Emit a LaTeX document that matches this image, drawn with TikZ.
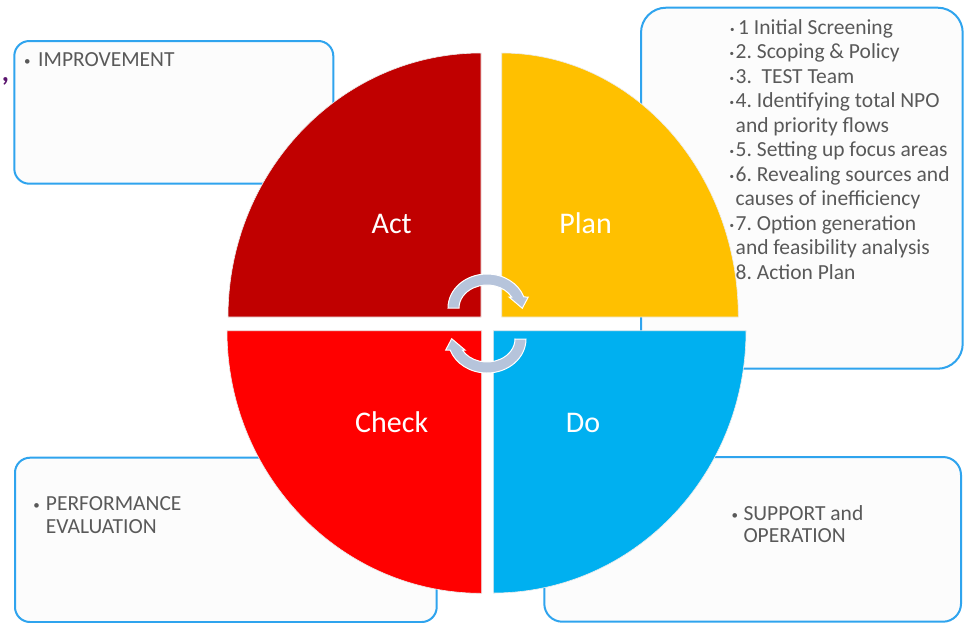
\documentclass[tikz,border=0pt]{standalone}
\usepackage{fontspec}
\setmainfont{Carlito}
\definecolor{boxblue}{RGB}{47,164,238}
\definecolor{boxfill}{RGB}{252,252,252}
\definecolor{txtgrey}{RGB}{89,89,89}
\definecolor{actred}{RGB}{192,0,0}
\definecolor{planyellow}{RGB}{255,192,0}
\definecolor{checkred}{RGB}{255,0,0}
\definecolor{doblue}{RGB}{0,176,240}
\definecolor{cycfill}{RGB}{182,196,219}
\definecolor{commapurple}{RGB}{90,20,110}
\newcommand\pdcbul[1]{\llap{\makebox[#1][l]{\raisebox{1pt}{\fontsize{13}{13}\selectfont\textbullet}}}}
\newcommand\pdcsmallbul{\llap{\raisebox{2pt}{\fontsize{9}{9}\selectfont\textbullet}\hspace{1.5pt}}}
\frenchspacing
\begin{document}
\begin{tikzpicture}[x=1pt,y=-1pt,
  boxsty/.style={draw=boxblue, line width=2pt, fill=boxfill, rounded corners=#1, anchor=north west, inner sep=0pt},
  txt/.style={text=txtgrey, font=\fontsize{21.5}{24.5}\selectfont, inner sep=0pt, anchor=base west},
  lbl/.style={text=white, font=\fontsize{30}{34}\selectfont, inner sep=0pt, anchor=base},
  quad/.style={draw=white!85!gray, line width=0.6pt},
  cyc/.style={fill=cycfill, draw=white, line width=1pt}]
\fill[white] (0,0) rectangle (966,622);
\useasboundingbox (0,0) rectangle (966,622);

% boxes
\node[boxsty=15pt, minimum width=319pt, minimum height=142.7pt] (impbox) at (13.3,40) {};
\node[boxsty=25pt, minimum width=321.7pt, minimum height=361pt] (planbox) at (640,6.7) {};
\node[boxsty=15pt, minimum width=421.7pt, minimum height=164.3pt] (perfbox) at (14,456.7) {};
\node[boxsty=18pt, minimum width=416.7pt, minimum height=164.7pt] (suppbox) at (543.3,456) {};

\node[font=\bfseries\fontsize{28}{30}\selectfont, text=commapurple, anchor=base, inner sep=0pt] (comma) at (5.5,81) {,};

% box texts
\node[txt] (imp) at (38,66.7) {\pdcbul{14pt}IMPROVEMENT};
\node[txt] (perf1) at (45.7,510) {\pdcbul{12.5pt}PERFORMANCE};
\node[txt] (perf2) at (45.7,533.3) {EVALUATION};
\node[txt] (supp1) at (743.3,520) {\pdcbul{12pt}SUPPORT and};
\node[txt] (supp2) at (743.3,542.7) {OPERATION};

\node[txt] (p1) at (738,34) {\llap{\raisebox{2pt}{\fontsize{9}{9}\selectfont\textbullet}\hspace{3.5pt}}1 Initial Screening};
\node[txt] (p2) at (735.5,58.5) {\pdcsmallbul 2. Scoping \& Policy};
\node[txt] (p3) at (735.5,83) {\pdcsmallbul 3.\ \ TEST Team};
\node[txt] (p4) at (735.5,107.5) {\pdcsmallbul 4. Identifying total NPO};
\node[txt] (p5) at (735.5,132) {and priority flows};
\node[txt] (p6) at (735.5,156.5) {\pdcsmallbul 5. Setting up focus areas};
\node[txt] (p7) at (735.5,181) {\pdcsmallbul 6. Revealing sources and};
\node[txt] (p8) at (735.5,205.5) {causes of inefficiency};
\node[txt] (p9) at (735.5,230) {\pdcsmallbul 7. Option generation};
\node[txt] (p10) at (735.5,254.5) {and feasibility analysis};
\node[txt] (p11) at (735.5,279) {\pdcsmallbul 8. Action Plan};

% pie quadrants
\path[quad, fill=actred] (481,317) -- (228,317) arc[start angle=180, end angle=270, x radius=253, y radius=264] -- cycle;
\path[quad, fill=planyellow] (501.7,317) -- (501.7,53) arc[start angle=270, end angle=360, x radius=236.6, y radius=264] -- cycle;
\path[quad, fill=checkred] (481.7,330.7) -- (227,330.7) arc[start angle=180, end angle=90, x radius=254.7, y radius=262.6] -- cycle;
\path[quad, fill=doblue] (493.3,330.7) -- (746,330.7) arc[start angle=0, end angle=90, x radius=252.7, y radius=262.3] -- cycle;

% labels
\node[lbl] (act) at (391.7,233.3) {Act};
\node[lbl] (plan) at (585.5,233.3) {Plan};
\node[lbl] (check) at (391.7,432.7) {Check};
\node[lbl] (do) at (583,432.7) {Do};

% cycle arrows
\path[cyc] (459,308) -- (448,308) arc[start angle=180, end angle=341.1, x radius=39, y radius=34]
  -- (528.3,297) -- (522.3,308.3) -- (509,297) -- (511.6,297)
  arc[start angle=331.4, end angle=180, x radius=28, y radius=23] -- cycle;
\path[cyc] (515,339) -- (526,339) arc[start angle=0, end angle=161.1, x radius=39, y radius=34]
  -- (445.7,350) -- (451.7,338.7) -- (465,350) -- (462.4,350)
  arc[start angle=151.4, end angle=0, x radius=28, y radius=23] -- cycle;
\end{tikzpicture}
\end{document}
